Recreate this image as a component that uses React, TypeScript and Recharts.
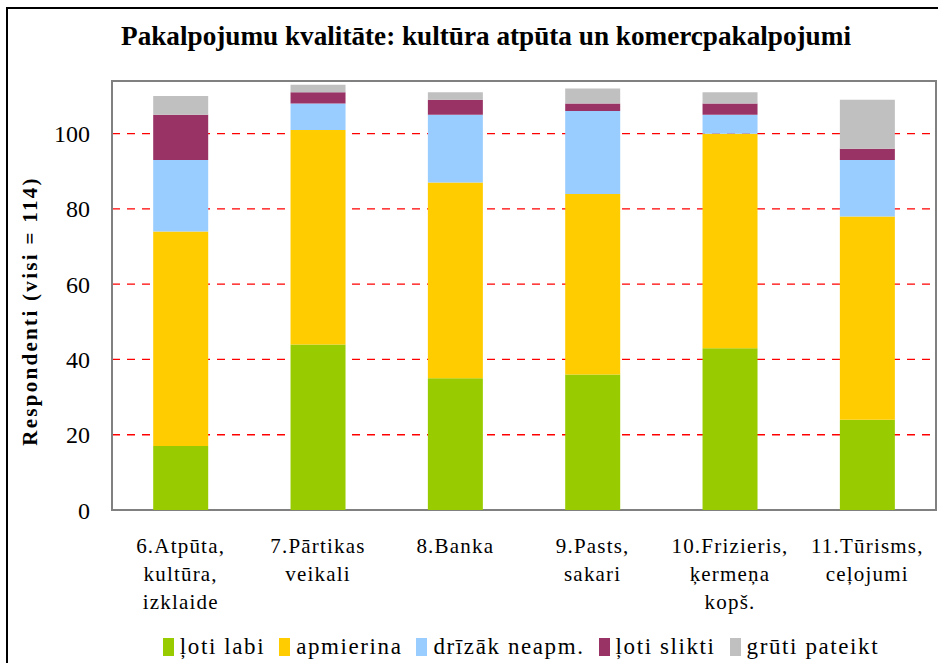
import React from "react";
import {
  BarChart,
  Bar,
  XAxis,
  YAxis,
  CartesianGrid,
  Legend,
  ReferenceArea,
} from "recharts";

// kategorijas (pakalpojumi)
const categories = [
  "6.Atpūta, kultūra, izklaide",
  "7.Pārtikas veikali",
  "8.Banka",
  "9.Pasts, sakari",
  "10.Frizieris, ķermeņa kopš.",
  "11.Tūrisms, ceļojumi",
];

// ass uzraksti pa rindām
const tickLines = [
  ["6.Atpūta,", "kultūra,", "izklaide"],
  ["7.Pārtikas", "veikali"],
  ["8.Banka"],
  ["9.Pasts,", "sakari"],
  ["10.Frizieris,", "ķermeņa", "kopš."],
  ["11.Tūrisms,", "ceļojumi"],
];

const lotiLabi = [17, 44, 35, 36, 43, 24];
const apmierina = [57, 57, 52, 48, 57, 54];
const drizakNeapm = [19, 7, 18, 22, 5, 15];
const lotiSlikti = [12, 3, 4, 2, 3, 3];
const grutiPateikt = [5, 2, 2, 4, 3, 13];

const yTicks = [0, 20, 40, 60, 80, 100];

const series = [
  { key: "lotiLabi", name: "ļoti labi", color: "#99CC00", values: lotiLabi },
  { key: "apmierina", name: "apmierina", color: "#FFCC00", values: apmierina },
  { key: "drizak", name: "drīzāk neapm.", color: "#99CCFF", values: drizakNeapm },
  { key: "slikti", name: "ļoti slikti", color: "#993366", values: lotiSlikti },
  { key: "gruti", name: "grūti pateikt", color: "#C0C0C0", values: grutiPateikt },
];

const data = categories.map((c, i) => {
  const row: any = { name: c, idx: i };
  series.forEach((s) => (row[s.key] = s.values[i]));
  return row;
});

const FONT = '"Liberation Serif", "Times New Roman", serif';

const CategoryTick = (props: any) => {
  const { x, y, payload } = props;
  const lines = tickLines[payload.index] ?? [payload.value];
  return (
    <g>
      {lines.map((l: string, i: number) => (
        <text
          key={i}
          x={x}
          y={y + 35 + i * 28}
          textAnchor="middle"
          fontFamily={FONT}
          fontSize={21}
          letterSpacing={1.2}
          fill="#000"
        >
          {l}
        </text>
      ))}
    </g>
  );
};

const LegendContent = () => (
  <div
    style={{
      display: "flex",
      justifyContent: "center",
      alignItems: "center",
      height: 36,
      paddingLeft: 106,
      paddingTop: 4,
      boxSizing: "border-box",
      fontFamily: FONT,
      fontSize: 23,
      letterSpacing: 1.6,
      color: "#000",
    }}
  >
    {series.map((s, i) => (
      <div
        key={s.key}
        style={{
          display: "flex",
          alignItems: "center",
          marginRight: i < series.length - 1 ? 14 : 0,
        }}
      >
        <span
          style={{
            display: "inline-block",
            width: 11,
            height: 18,
            background: s.color,
            marginRight: 6,
          }}
        />
        <span>{s.name}</span>
      </div>
    ))}
  </div>
);

export default function App() {
  return (
    <div
      style={{
        position: "absolute",
        left: 0,
        top: 0,
        width: 938,
        height: 663,
        overflow: "hidden",
        background: "#fff",
        fontFamily: FONT,
      }}
    >
      {/* rāmis */}
      <div
        style={{
          position: "absolute",
          left: 6,
          top: 7,
          width: 960,
          height: 700,
          border: "2px solid #000",
          boxSizing: "border-box",
        }}
      />
      <div
        style={{
          position: "absolute",
          left: 0,
          width: 972,
          top: 21,
          textAlign: "center",
          fontWeight: "bold",
          fontSize: 27.2,
          lineHeight: "30px",
        }}
      >
        Pakalpojumu kvalitāte: kultūra atpūta un komercpakalpojumi
      </div>
      <div
        style={{
          position: "absolute",
          left: 30,
          top: 311,
          transform: "translate(-50%, -50%) rotate(-90deg)",
          whiteSpace: "nowrap",
          fontWeight: "bold",
          fontSize: 21,
          letterSpacing: 2.3,
        }}
      >
        Respondenti (visi = 114)
      </div>
      <div style={{ position: "absolute", left: 0, top: 0 }}>
        <BarChart
          width={938}
          height={663}
          data={data}
          margin={{ top: 81, right: 2, left: 0, bottom: 0 }}
          barCategoryGap="30%"
        >
          <CartesianGrid
            vertical={false}
            stroke="#FF0000"
            strokeDasharray="8 7"
            strokeWidth={1.3}
          />
          <XAxis
            dataKey="name"
            height={117}
            axisLine={false}
            tickLine={false}
            interval={0}
            tick={<CategoryTick />}
          />
          <YAxis
            width={112}
            domain={[0, 114]}
            ticks={yTicks}
            allowDataOverflow
            axisLine={false}
            tickLine={false}
            tickMargin={16}
            tick={{ fontFamily: FONT, fontSize: 24, fill: "#000" }}
          />
          {series.map((s) => (
            <Bar
              key={s.key}
              dataKey={s.key}
              name={s.name}
              stackId="a"
              fill={s.color}
              isAnimationActive={false}
            />
          ))}
          <ReferenceArea
            y1={0}
            y2={114}
            fill="none"
            stroke="#808080"
            strokeWidth={2}
            ifOverflow="visible"
          />
          <Legend
            verticalAlign="bottom"
            height={36}
            content={<LegendContent />}
          />
        </BarChart>
      </div>
    </div>
  );
}
